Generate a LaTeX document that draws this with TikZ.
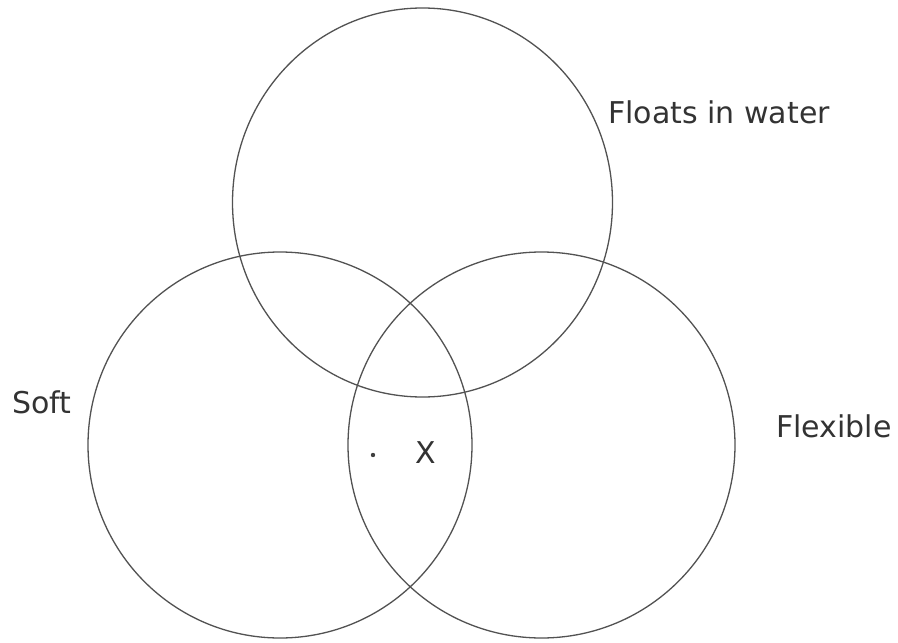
\documentclass[tikz,border=0pt]{standalone}
\usepackage{fontspec}
\setmainfont{DejaVu Sans}
\begin{document}
\begin{tikzpicture}[x=1pt,y=-1pt,
  setline/.style={draw=black!68, line width=1.3pt},
  lbl/.style={inner sep=0pt, text=black!80, font=\fontsize{30}{36}\selectfont}]
\useasboundingbox (0,0) rectangle (898,643);
\fill[white] (0,0) rectangle (898,643);
% circles
\draw[setline] (422.5,202.5) ellipse [x radius=190, y radius=194.5];
\draw[setline] (280,445) ellipse [x radius=192, y radius=193];
\draw[setline] (541.5,445) ellipse [x radius=193.5, y radius=193];
% labels
\node[lbl, anchor=base west] (floats) at (608,123) {Floats in water};
\node[lbl, anchor=base west] (soft) at (12,413) {Soft};
\node[lbl, anchor=base west] (flex) at (776,437) {Flexible};
\node[lbl, anchor=base] (x) at (426,463) {X};
\fill[black!75] (373,455) circle (2.2) coordinate (dot);
\end{tikzpicture}
\end{document}
